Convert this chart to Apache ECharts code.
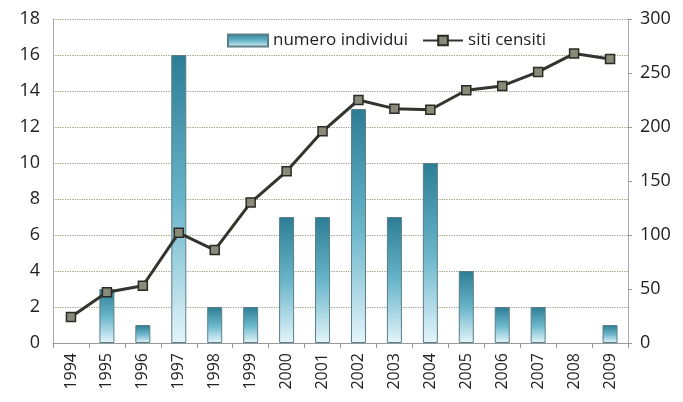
<!DOCTYPE html>
<html>
<head>
<meta charset="utf-8">
<script src="https://cdn.jsdelivr.net/npm/echarts@6/dist/echarts.min.js"></script>
<style>
  html, body { margin: 0; padding: 0; background: #fff; }
  #main { width: 683px; height: 402px; }
</style>
</head>
<body>
<div id="main"></div>
<script>
// dati
const anni = ['1994', '1995', '1996', '1997', '1998', '1999', '2000', '2001',
  '2002', '2003', '2004', '2005', '2006', '2007', '2008', '2009'];
const numeroIndividui = [0, 3, 1, 16, 2, 2, 7, 7, 13, 7, 10, 4, 2, 2, 0, 1];
const sitiCensiti = [24, 47, 53, 102, 86, 130, 159, 196, 225, 217, 216, 234, 238, 251, 268, 263];

const myChart = echarts.init(document.getElementById('main'));

// gradiente delle barre: scuro in alto, chiaro in basso
const barColor = new echarts.graphic.LinearGradient(0, 0, 0, 1, [
  { offset: 0, color: '#2c7d94' },
  { offset: 0.5, color: '#68b4c9' },
  { offset: 1, color: '#e4f5fb' }
]);

// le barre a zero non hanno bordo
const barData = numeroIndividui.map(v => v === 0
  ? { value: v, itemStyle: { borderWidth: 0 } }
  : v);

const option = {
  animation: false,
  textStyle: { fontFamily: 'Open Sans' },
  legend: {
    top: 27,
    left: 222,
    itemGap: 14,
    itemWidth: 40,
    itemHeight: 12,
    textStyle: { fontSize: 17, color: '#222', fontFamily: 'Open Sans' },
    data: [
      { name: 'numero individui', icon: 'rect' },
      { name: 'siti censiti' }
    ]
  },
  grid: { left: 53, right: 55, top: 19, bottom: 59 },
  xAxis: {
    type: 'category',
    data: anni,
    axisLine: { lineStyle: { color: '#999' } },
    axisTick: { show: true, lineStyle: { color: '#999' }, length: 5 },
    axisLabel: { rotate: 90, fontSize: 16, color: '#222', margin: 10 }
  },
  yAxis: [
    {
      type: 'value',
      min: 0, max: 18, interval: 2,
      axisLine: { show: true, lineStyle: { color: '#aaa' } },
      axisTick: { show: false },
      axisLabel: { fontSize: 18, color: '#222', margin: 13 },
      splitLine: { lineStyle: { color: '#9a9a7a', type: 'dotted', width: 1.2 } }
    },
    {
      type: 'value',
      min: 0, max: 300, interval: 50,
      position: 'right',
      axisLine: { show: true, lineStyle: { color: '#aaa' } },
      axisTick: { show: true, length: 4, lineStyle: { color: '#999' } },
      axisLabel: { fontSize: 18, color: '#222', margin: 12 },
      splitLine: { show: false }
    }
  ],
  series: [
    {
      name: 'numero individui',
      type: 'bar',
      yAxisIndex: 0,
      barWidth: 15,
      data: barData,
      itemStyle: { color: barColor, borderColor: '#5a7f88', borderWidth: 1 }
    },
    {
      name: 'siti censiti',
      type: 'line',
      yAxisIndex: 1,
      data: sitiCensiti,
      symbol: 'rect',
      symbolSize: 9,
      lineStyle: { color: '#34342f', width: 3 },
      itemStyle: { color: '#8a8a78', borderColor: '#2a2a26', borderWidth: 1.5 }
    }
  ]
};

myChart.setOption(option);
</script>
</body>
</html>
